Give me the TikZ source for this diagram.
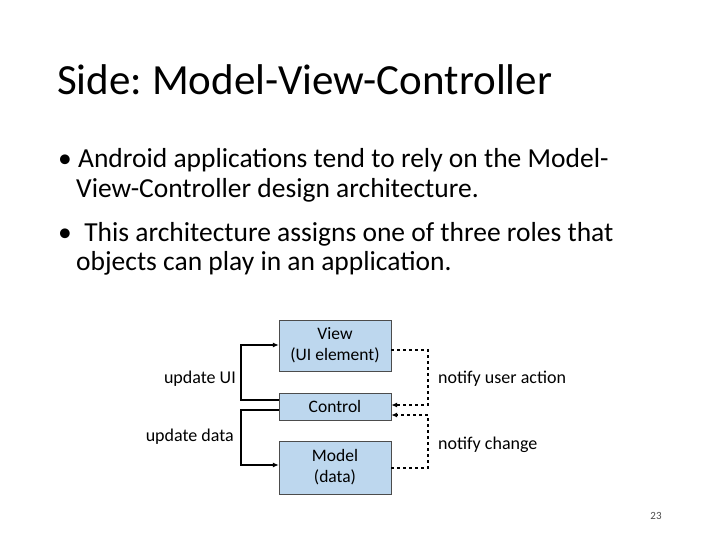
\documentclass[tikz,border=0pt]{standalone}
\usepackage{fontspec}
\setmainfont{Carlito}
\frenchspacing
\usetikzlibrary{arrows.meta}
\begin{document}
\begin{tikzpicture}[x=1pt,y=-1pt,
  box/.style={draw=black!70,fill={rgb,255:red,189;green,215;blue,238},minimum width=112pt,inner sep=0pt,align=center,font=\fontsize{17.5}{21}\selectfont},
  lbl/.style={font=\fontsize{18}{21}\selectfont,inner sep=0pt},
  solidarr/.style={line width=1.5pt,-{Latex[length=6pt,width=5pt]}},
  dasharr/.style={line width=1.2pt,dashed,-{Latex[length=6pt,width=5pt]}},
  txt/.style={font=\fontsize{27.5}{32}\selectfont,inner sep=0pt,anchor=base west}]
\useasboundingbox (0,0) rectangle (720,540);
\node[font=\fontsize{43}{50}\selectfont,inner sep=0pt,anchor=base west] (title) at (57,95) {Side: Model-View-Controller};
\node[txt] (b1) at (58,168) {\textbullet\ Android applications tend to rely on the Model-};
\node[txt] (b1b) at (76,197) {View-Controller design architecture.};
\node[txt] (b2) at (58,241) {\textbullet\ \ This architecture assigns one of three roles that};
\node[txt] (b2b) at (76,270) {objects can play in an application.};
\node[box,minimum height=51pt] (view) at (335,345.5) {View\\(UI element)};
\node[box,minimum height=27pt] (ctrl) at (335,406.5) {Control};
\node[box,minimum height=53pt] (model) at (335,467.5) {Model\\(data)};
\coordinate (a1) at (241,400); \coordinate (a2) at (241,345);
\coordinate (c1) at (241,410); \coordinate (c2) at (241,465);
\draw[solidarr] (ctrl.west |- a1) -- (a1) -- (a2) -- (view.west |- a2);
\draw[solidarr] (ctrl.west |- c1) -- (c1) -- (c2) -- (model.west |- c2);
\coordinate (d1) at (428,350); \coordinate (d2) at (428,405);
\coordinate (e1) at (428,468); \coordinate (e2) at (428,415);
\draw[dasharr] (view.east |- d1) -- (d1) -- (d2) -- (ctrl.east |- d2);
\draw[dasharr] (model.east |- e1) -- (e1) -- (e2) -- (ctrl.east |- e2);
\node[lbl,anchor=base east] (l1) at (236,383) {update UI};
\node[lbl,anchor=base east] (l2) at (234,441) {update data};
\node[lbl,anchor=base west] (l3) at (438,383) {notify user action};
\node[lbl,anchor=base west] (l4) at (438,449) {notify change};
\node[font=\fontsize{11}{13}\selectfont,text=black!70,inner sep=0pt,anchor=base] (pg) at (656,519) {23};
\end{tikzpicture}
\end{document}
